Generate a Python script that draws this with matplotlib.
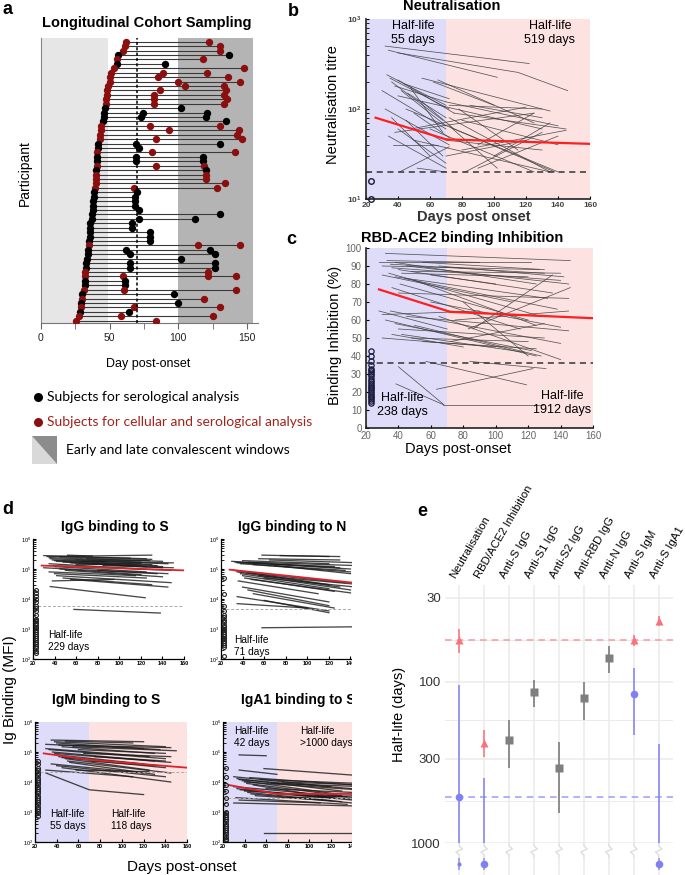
import matplotlib

matplotlib.use("Agg")
import matplotlib.pyplot as plt
import matplotlib.transforms as mtransforms
import numpy as np
from matplotlib.patches import Polygon, Rectangle

plt.rcParams["font.family"] = ["Liberation Sans", "DejaVu Sans"]

W, H = 685, 875

# ---------------- panel a: sampling days per participant ----------------
first_visit = [62, 61, 60, 56, 55, 55, 53, 51, 50, 50, 49, 48, 48, 47, 47, 46.6,
               46, 45.6, 45, 44, 44, 43, 43, 41.7, 41.7, 41, 40.5, 40.5, 40.5, 40,
               40, 40, 40, 39, 38.5, 38.5, 38, 38, 37.6, 36.8, 36.8, 36, 35.6, 35.6,
               35.6, 35, 35, 34, 34, 33.4, 33, 33, 32.4, 32.4, 32.4, 32.4, 31, 30,
               30, 29, 28.8, 28.5, 27.6, 25.6]
later_visits = [[122], [130], [130], [137], [118], [90], [148], [89, 121], [85, 136],
                [99.5, 145], [105, 133], [86.6, 135], [82, 133], [82, 135.6], [82, 133],
                [102], [74, 121], [73, 120], [134.6], [79, 130], [93, 144], [143],
                [84, 146], [69, 130], [71.5], [80.5, 141], [69, 118], [69, 118],
                [84, 119], [120.5], [120], [120], [134], [67.6, 128.5], [70], [68.5],
                [68.5], [68.5], [71.5], [130], [71.5, 112], [66], [66], [79.5], [79.5],
                [79.5], [114, 145], [62, 123], [65, 127], [102], [65, 127], [65, 127],
                [121.5], [60, 121.5, 142], [61], [61], [60.5, 142], [97], [119], [99.5],
                [67.6, 130], [64], [58, 125], [84]]
cohort = "rrrkrkrrrrrrrrrkkkkrrrrkkrkkrkrrrrkkkkkkkkkkkkrkkkkkrrkkrkrkrkrr"

# ---------------- panel b: neutralisation titres ----------------
neut_lines = [
    ([32, 122], [500, 320]), ([34, 102], [450, 225]), ([40, 115, 146], [420, 255, 160]),
    ([30, 70], [160, 60]), ([33, 70], [240, 110]), ([35, 72], [220, 100]),
    ([36, 68], [200, 75]), ([38, 70], [180, 120]), ([40, 75], [210, 90]),
    ([42, 70], [160, 65]), ([44, 72], [190, 130]), ([46, 70], [150, 80]),
    ([48, 68], [170, 55]), ([32, 72], [100, 40]), ([34, 70], [50, 22]),
    ([36, 60], [80, 30]), ([40, 70], [60, 25]), ([45, 68], [75, 30]),
    ([50, 72], [90, 48]), ([55, 75], [120, 60]), ([37, 65], [40, 40]),
    ([41, 72], [20, 38]), ([52, 70], [22, 20]), ([62, 100], [200, 110]),
    ([40, 130], [140, 60]), ([45, 140], [100, 20]), ([38, 125], [55, 90]),
    ([50, 135], [45, 20]), ([60, 125], [60, 20]), ([55, 135], [220, 95]),
    ([48, 120], [60, 105]), ([65, 125], [210, 70]), ([70, 140], [120, 65]),
    ([72, 130], [110, 100]), ([75, 145], [90, 60]), ([72, 135], [80, 20]),
    ([75, 138], [60, 20]), ([70, 130], [45, 35]), ([80, 145], [35, 58]),
    ([82, 130], [20, 55]), ([70, 120], [30, 45]), ([90, 125], [40, 90]),
    ([78, 115], [100, 35]), ([85, 130], [110, 80]), ([72, 102], [65, 22]),
    ([80, 140], [75, 40]), ([100, 135], [30, 70]), ([90, 140], [22, 50]),
]
neut_fit_days = [26, 70, 160]
neut_fit = [80, 46, 41]
neut_below = [16, 10]

# ---------------- panel c: RBD-ACE2 binding inhibition ----------------
inhib_lines = [
    ([32, 146], [97, 93]), ([28, 122], [92, 92]), ([30, 127], [90, 88]), ([33, 90], [93, 92]),
    ([35, 130], [91, 86]), ([36, 140], [89, 82]), ([38, 125], [92, 80]), ([40, 135], [88, 75]),
    ([42, 120], [86, 84]), ([45, 145], [90, 80]), ([30, 110], [85, 70]), ([34, 128], [86, 62]),
    ([38, 132], [84, 72]), ([41, 120], [80, 60]), ([44, 138], [83, 66]), ([48, 140], [87, 86]),
    ([50, 125], [82, 57]), ([36, 115], [78, 55]), ([40, 145], [75, 72]), ([55, 130], [92, 88]),
    ([60, 100], [85, 80]), ([65, 142], [90, 84]), ([28, 70], [65, 55]), ([30, 90], [63, 65]),
    ([32, 125], [60, 40]), ([35, 140], [65, 47]), ([38, 122], [58, 43]), ([40, 130], [55, 50]),
    ([42, 118], [52, 42]), ([45, 145], [62, 54]), ([48, 120], [50, 48]), ([36, 80], [52, 45]),
    ([50, 128], [57, 40]), ([55, 125], [48, 44]), ([30, 100], [50, 45]), ([60, 140], [70, 56]),
    ([70, 130], [65, 62]), ([75, 145], [60, 65]), ([83, 146], [55, 78]), ([86, 135], [55, 85]),
    ([72, 130], [48, 58]), ([80, 120], [70, 40]), ([65, 140], [62, 38]), ([40, 68], [34, 13]),
    ([38.5, 67.6], [24.5, 13]), ([67.6, 129], [13, 13]), ([63.5, 123], [21.5, 33]),
    ([57, 119], [37, 24]), ([84, 131], [37, 33]),
]
inhib_fit_days = [28, 72, 160]
inhib_fit = [77, 64.5, 61]
inhib_below = [43, 40, 37, 35, 33, 32, 31, 30, 29, 27, 26, 25, 24, 23, 22, 21, 20, 19,
               18, 17, 16, 15, 14]

# ---------------- panel d: Ig binding (MFI) ----------------
igg_s_lines = [
    ([30, 125], [2.8e5, 2.2e5]), ([33, 130], [2.6e5, 2.9e5]), ([35, 140], [2.4e5, 1.8e5]),
    ([36, 120], [2.2e5, 1.7e5]), ([38, 145], [2.0e5, 1.5e5]), ([40, 130], [1.9e5, 1.4e5]),
    ([42, 135], [1.8e5, 1.3e5]), ([45, 110], [2.5e5, 2.3e5]), ([48, 125], [1.7e5, 1.2e5]),
    ([52, 75], [2.9e5, 2.7e5]), ([55, 140], [1.6e5, 1.1e5]), ([35, 120], [1.5e5, 1.0e5]),
    ([38, 148], [1.3e5, 9e4]), ([40, 125], [1.2e5, 8e4]), ([30, 135], [1.1e5, 7e4]),
    ([45, 120], [1.0e5, 6.5e4]), ([50, 140], [9e4, 5.5e4]), ([35, 115], [8e4, 6e4]),
    ([40, 125], [7e4, 5e4]), ([42, 148], [6e4, 3.5e4]), ([48, 130], [5e4, 3e4]),
    ([55, 145], [4.5e4, 2.5e4]), ([38, 95], [4e4, 4.5e4]), ([60, 128], [2e5, 1.9e5]),
    ([65, 150], [1.8e5, 1.6e5]), ([70, 130], [2.2e5, 2.1e5]), ([75, 140], [1.5e5, 1.2e5]),
    ([80, 145], [9e4, 7e4]), ([85, 150], [1.3e5, 1.1e5]), ([60, 120], [1.4e5, 1.5e5]),
    ([36, 124], [2.6e4, 1.1e4]), ([58, 138], [4.5e3, 3.4e3]),
]
igg_s_fit_days = [28, 160]
igg_s_fit = [1.3e5, 9e4]
igg_s_below = [2.0e4, 1.6e4, 1.3e4, 1.0e4, 8e3, 6e3, 5e3, 4e3, 3e3, 2.2e3, 2e3, 1.8e3,
               1.6e3, 1.4e3, 1.2e3, 1.05e3, 9e2, 8e2, 7e2, 6e2, 5e2, 4.3e2, 3.7e2, 3.2e2,
               2.7e2, 2.3e2, 1.9e2, 1.6e2]

igg_n_lines = [
    ([30, 130], [1.8e5, 1.1e5]), ([33, 140], [1.7e5, 1.0e5]), ([35, 125], [1.6e5, 1.2e5]),
    ([38, 135], [1.5e5, 9e4]), ([40, 120], [1.9e5, 1.5e5]), ([45, 145], [1.7e5, 1.3e5]),
    ([50, 140], [1.4e5, 8e4]), ([55, 130], [2.2e5, 2.0e5]), ([58, 120], [2.9e5, 2.6e5]),
    ([65, 150], [2.0e5, 1.6e5]), ([75, 130], [2.8e5, 2.6e5]), ([70, 140], [1.3e5, 7e4]),
    ([32, 120], [9e4, 3e4]), ([35, 130], [8e4, 2.5e4]), ([38, 140], [7e4, 2e4]),
    ([40, 120], [6e4, 2.2e4]), ([42, 125], [5e4, 1.8e4]), ([45, 135], [7.5e4, 3.5e4]),
    ([48, 140], [4.5e4, 1.6e4]), ([36, 110], [4e4, 1.5e4]), ([55, 150], [6e4, 3e4]),
    ([60, 145], [5e4, 2.5e4]), ([40, 120], [2.5e4, 8e3]), ([45, 120], [2e4, 6e3]),
    ([50, 125], [1.5e4, 5e3]), ([35, 120], [1.2e4, 4e3]), ([35, 100], [7e3, 5e3]),
    ([60, 120], [9e3, 3.5e3]), ([58, 160], [1.1e3, 1.2e3]),
]
igg_n_fit_days = [28, 160]
igg_n_fit = [9.5e4, 3e4]
igg_n_below = [5e4, 1.5e4, 6e3, 4e3, 3e3, 2.5e3, 2e3, 1.7e3, 1.4e3, 1.2e3, 1e3, 9e2,
               8e2, 7e2, 6e2, 5e2, 4.5e2, 4e2, 3.5e2, 3e2, 2.5e2, 1.3e2]

igm_s_lines = [
    ([30, 120], [1.8e5, 1.3e5]), ([35, 120], [2.5e5, 2.2e5]), ([38, 140], [2.2e5, 1.5e5]),
    ([40, 135], [2.0e5, 1.2e5]), ([42, 145], [1.7e5, 1.4e5]), ([45, 130], [1.5e5, 9e4]),
    ([48, 110], [2.3e5, 2e5]), ([30, 125], [1.3e5, 7e4]), ([33, 140], [1.2e5, 6e4]),
    ([36, 130], [1.0e5, 5e4]), ([38, 145], [9e4, 4.5e4]), ([40, 120], [8e4, 4e4]),
    ([42, 135], [7e4, 3.5e4]), ([45, 140], [6.5e4, 3e4]), ([48, 125], [6e4, 2.5e4]),
    ([50, 145], [5e4, 2e4]), ([52, 130], [4.5e4, 1.8e4]), ([35, 120], [4e4, 2e4]),
    ([40, 140], [3.5e4, 1.5e4]), ([30, 110], [2.5e4, 1.5e4]), ([45, 145], [3e4, 1e4]),
    ([55, 150], [1.5e5, 1.1e5]), ([60, 140], [1.2e5, 9e4]), ([65, 145], [9e4, 7e4]),
    ([70, 130], [5e4, 3.5e4]), ([75, 140], [7e4, 5e4]), ([58, 125], [2.5e4, 2.2e4]),
    ([30, 70, 120], [2e4, 5.5e3, 3.8e3]),
]
igm_s_fit_days = [28, 70, 160]
igm_s_fit = [9e4, 5.5e4, 3e4]
igm_s_below = [5e4, 4e4, 3e4, 2.5e4, 2e4, 1.7e4, 1.4e4, 1.2e4, 1e4, 8.5e3, 7e3, 6e3,
               5e3, 4.2e3, 3.5e3, 3e3, 2.5e3, 2.1e3, 1.8e3, 1.5e3, 1.3e3, 1.1e3, 9e2, 7.5e2]

iga_s_lines = [
    ([35, 60], [8e4, 7.5e4]), ([58, 140], [2.8e4, 1.7e4]), ([35, 70], [2.5e4, 1.8e4]),
    ([30, 120], [1.5e4, 7e3]), ([33, 130], [1.3e4, 5e3]), ([35, 140], [1.2e4, 6e3]),
    ([38, 125], [1.1e4, 4e3]), ([40, 145], [1e4, 5.5e3]), ([42, 130], [9e3, 3.5e3]),
    ([45, 140], [1.4e4, 8e3]), ([48, 120], [8e3, 3e3]), ([30, 135], [7e3, 3.2e3]),
    ([33, 140], [6e3, 2.5e3]), ([36, 125], [5.5e3, 2.8e3]), ([40, 145], [5e3, 3e3]),
    ([43, 130], [4.5e3, 2.2e3]), ([46, 140], [4e3, 2e3]), ([50, 120], [3.5e3, 2.4e3]),
    ([32, 135], [3e3, 1.8e3]), ([35, 110], [2.5e3, 2e3]), ([30, 140], [2e3, 1.6e3]),
    ([55, 145], [1.2e4, 9e3]), ([60, 140], [6e3, 4.5e3]), ([65, 150], [9e3, 7e3]),
    ([70, 145], [4e3, 2.6e3]), ([75, 150], [1e4, 8e3]), ([80, 145], [3e3, 3.5e3]),
    ([58, 160], [2e2, 2e2]),
]
iga_s_fit_days = [25, 70, 160]
iga_s_fit = [8e3, 4e3, 4e3]
iga_s_below = [3e4, 1.5e4, 8e3, 5e3, 3e3, 1.8e3, 1e3, 9e2, 8e2, 7e2, 6e2, 5e2, 4e2,
               3.5e2, 3e2, 2.5e2, 2.1e2, 1.8e2, 1.5e2, 1.3e2, 1.15e2]

# ---------------- panel e: half-life estimates ----------------
categories = ["Neutralisation", "RBD/ACE2 Inhibition", "Anti-S IgG", "Anti-S1 IgG",
              "Anti-S2 IgG", "Anti-RBD IgG", "Anti-N IgG", "Anti-S IgM", "Anti-S IgA1"]
early_idx = [0, 1, 7, 8]
early_hl = [55, 238, 55, 42]
early_lo = [47, 199, 51, 39]
early_hi = [66, 293, 60, 45]
late_idx = [0, 1, 7, 8]
late_hl = [519, None, 118, None]      # None: estimate beyond 1000 days
late_lo = [104, 396, 82, 243]
late_hi = [None, None, 214, None]     # None: interval open beyond 1000 days
single_idx = [2, 3, 4, 5, 6]
single_hl = [229, 115, 343, 126, 71]
single_lo = [173, 97, 236, 100, 60]
single_hi = [343, 143, 655, 173, 88]
beyond_idx = [0, 1, 8]

RED_PT = "#8b0f0f"
FIT_RED = "#ff1f1f"
E_RED = "#f8727a"
E_BLUE = "#8080f6"


def fbox(l, t, r, b):
    return [l / W, 1 - b / H, (r - l) / W, (b - t) / H]


fig = plt.figure(figsize=(W / 100, H / 100), dpi=100)


def ftext(x, y, s, **kw):
    fig.text(x / W, 1 - y / H, s, **kw)


# ---- panel a ----
ax = fig.add_axes(fbox(41, 38, 258, 323))
ax.axvspan(0, 48.5, color="#e6e6e6", lw=0)
ax.axvspan(100, 154.5, color="#b4b4b4", lw=0)
for i, (d0, later, c) in enumerate(zip(first_visit, later_visits, cohort)):
    col = RED_PT if c == "r" else "black"
    days = [d0] + later
    ax.plot([d0, max(days)], [i, i], color="#3a3a3a", lw=0.8, zorder=2)
    ax.plot(days, [i] * len(days), "o", color=col, ms=5.3, mec="none", zorder=3)
ax.axvline(70, color="black", ls=(0, (2, 1.5)), lw=1.1, zorder=4)
ax.set_xlim(0, 158)
ax.set_ylim(63.5, -0.85)
for s in ["top", "right"]:
    ax.spines[s].set_visible(False)
ax.spines["left"].set_color("#888888")
ax.spines["bottom"].set_color("#777777")
ax.set_yticks([])
ax.set_xticks([0, 50, 100, 150])
ax.set_xticks([25, 75, 125], minor=True)
ax.tick_params(axis="x", which="both", direction="out", length=4, color="#666666",
               labelsize=7.5, labelcolor="#222222")
ftext(147, 23, "Longitudinal Cohort Sampling", ha="center", va="center",
      fontsize=10.5, fontweight="bold")
ftext(148, 364, "Day post-onset", ha="center", va="center", fontsize=9)
ftext(25, 173, "Participant", ha="center", va="center", fontsize=10, rotation=90)

# legend of panel a
lg = fig.add_axes(fbox(0, 380, 280, 470))
lg.set_xlim(0, 280)
lg.set_ylim(470, 380)
lg.axis("off")
lg.plot([38], [397], "o", color="black", ms=6.5, mec="none")
lg.plot([38], [422], "o", color=RED_PT, ms=6.5, mec="none")
lg.add_patch(Polygon([[32, 436], [32, 464], [57, 464]], closed=True, color="#d9d9d9", lw=0))
lg.add_patch(Polygon([[32, 436], [57, 436], [57, 464]], closed=True, color="#8c8c8c", lw=0))
lg.text(47, 397, "Subjects for serological analysis", va="center", fontsize=10,
        family=["Lato", "DejaVu Sans"])
lg.text(47, 422, "Subjects for cellular and serological analysis", va="center",
        fontsize=10, color="#a3221a", family=["Lato", "DejaVu Sans"])
lg.text(66, 450, "Early and late convalescent windows", va="center", fontsize=10,
        family=["Lato", "DejaVu Sans"])


def style_series_ax(ax, tick_size, bold):
    for s in ["top", "right"]:
        ax.spines[s].set_visible(False)
    for s in ["left", "bottom"]:
        ax.spines[s].set_color("#222222")
        ax.spines[s].set_linewidth(1.2)
    ax.tick_params(which="both", direction="in", labelsize=tick_size, length=2.5,
                   labelcolor="#444444")
    ax.tick_params(axis="x", pad=2.5)
    ax.tick_params(axis="y", pad=3)
    if bold:
        for lab in ax.get_xticklabels() + ax.get_yticklabels():
            lab.set_fontweight("bold")


# ---- panel b ----
ax = fig.add_axes(fbox(366, 19, 590, 199))
ax.axvspan(20, 70, color="#dedcf8", lw=0)
ax.axvspan(70, 160, color="#fde2e2", lw=0)
for days, vals in neut_lines:
    ax.plot(days, vals, color="#3c3c3c", lw=0.55, alpha=0.85)
ax.plot(neut_fit_days, neut_fit, color=FIT_RED, lw=1.6)
ax.axhline(20, color="#333333", ls=(0, (4, 3)), lw=1.1)
ax.plot([23] * len(neut_below), neut_below, "o", mfc="none", mec="#1a1a40", ms=4,
        mew=1, clip_on=False)
ax.set_yscale("log")
ax.set_ylim(10, 1000)
ax.set_xlim(20, 160)
ax.set_xticks(range(20, 161, 20))
style_series_ax(ax, 6, True)
ftext(452, 6, "Neutralisation", ha="center", va="center", fontsize=10.5, fontweight="bold")
ftext(474, 217, "Days post onset", ha="center", va="center", fontsize=10.5,
      fontweight="bold", color="#333333")
ftext(333, 105, "Neutralisation titre", ha="center", va="center", fontsize=10.5,
      rotation=90)
ftext(413, 33, "Half-life\n55 days", ha="center", va="center", fontsize=9)
ftext(550, 33, "Half-life\n519 days", ha="center", va="center", fontsize=9)

# ---- panel c ----
ax = fig.add_axes(fbox(366, 248, 593, 428))
ax.axvspan(20, 70, color="#dedcf8", lw=0)
ax.axvspan(70, 160, color="#fde2e2", lw=0)
for days, vals in inhib_lines:
    ax.plot(days, vals, color="#3c3c3c", lw=0.55, alpha=0.85)
ax.plot(inhib_fit_days, inhib_fit, color=FIT_RED, lw=1.6)
ax.axhline(36, color="#333333", ls=(0, (4, 3)), lw=1.1)
ax.plot([23] * len(inhib_below), inhib_below, "o", mfc="none", mec="#1a1a40", ms=3.8,
        mew=0.9)
ax.set_ylim(0, 100)
ax.set_xlim(20, 160)
ax.set_xticks(range(20, 161, 20))
ax.set_yticks(range(0, 101, 10))
style_series_ax(ax, 7, False)
ax.tick_params(labelcolor="#666666")
ftext(462, 238, "RBD-ACE2 binding Inhibition", ha="center", va="center", fontsize=10.5,
      fontweight="bold")
ftext(458, 449, "Days post-onset", ha="center", va="center", fontsize=10.5)
ftext(335, 335, "Binding Inhibition (%)", ha="center", va="center", fontsize=10.5,
      rotation=90)
ftext(402, 405, "Half-life\n238 days", ha="center", va="center", fontsize=9)
ftext(562, 403, "Half-life\n1912 days", ha="center", va="center", fontsize=9)

# ---- panel d ----
d_panels = [
    ((33, 539, 184, 659), "IgG binding to S", (115, 527), igg_s_lines, igg_s_fit_days,
     igg_s_fit, igg_s_below, 6e3, False),
    ((221, 539, 372, 659), "IgG binding to N", (292, 527), igg_n_lines, igg_n_fit_days,
     igg_n_fit, igg_n_below, 4.5e3, False),
    ((35, 722, 187, 842), "IgM binding to S", (106, 700), igm_s_lines, igm_s_fit_days,
     igm_s_fit, igm_s_below, 2.2e4, True),
    ((223, 722, 374, 842), "IgA1 binding to S", (298, 700), iga_s_lines, iga_s_fit_days,
     iga_s_fit, iga_s_below, 3e3, True),
]
for rect, title, tpos, lines, fdays, fvals, below, cutoff, shade in d_panels:
    ax = fig.add_axes(fbox(*rect))
    if shade:
        ax.axvspan(20, 70, color="#dedcf8", lw=0)
        ax.axvspan(70, 160, color="#fde2e2", lw=0)
    for days, vals in lines:
        ax.plot(days, vals, color="#1a1a1a", lw=0.95, alpha=0.8)
    ax.plot(fdays, fvals, color="#e0202a", lw=1.3)
    ax.axhline(cutoff, color="#aaaaaa", ls=(0, (3, 2)), lw=0.7)
    ax.plot([23] * len(below), below, "o", mfc="none", mec="#222222", ms=2.8, mew=0.8)
    ax.set_yscale("log")
    ax.set_ylim(1e2, 1e6)
    ax.set_xlim(20, 160)
    ax.set_xticks(range(20, 161, 20))
    for s in ["top", "right"]:
        ax.spines[s].set_visible(False)
    for s in ["left", "bottom"]:
        ax.spines[s].set_linewidth(0.9)
    ax.tick_params(which="both", direction="in", labelsize=4, length=2, pad=1.5)
    for lab in ax.get_xticklabels():
        lab.set_fontweight("bold")
    ftext(tpos[0], tpos[1], title, ha="center", va="center", fontsize=10,
          fontweight="bold")

ftext(48, 641, "Half-life\n229 days", ha="left", va="center", fontsize=7.3)
ftext(234, 646, "Half-life\n71 days", ha="left", va="center", fontsize=7.3)
ftext(50, 820, "Half-life\n55 days", ha="left", va="center", fontsize=7.3)
ftext(111, 820, "Half-life\n118 days", ha="left", va="center", fontsize=7.3)
ftext(234, 737, "Half-life\n42 days", ha="left", va="center", fontsize=7.3)
ftext(300, 737, "Half-life\n>1000 days", ha="left", va="center", fontsize=7.3)
ftext(10, 690, "Ig Binding (MFI)", ha="center", va="center", fontsize=11, rotation=90)
ftext(182, 867, "Days post-onset", ha="center", va="center", fontsize=11)

# crop of the right column of panel d
fig.add_artist(Rectangle((352 / W, 0), 40 / W, 1 - 490 / H, transform=fig.transFigure,
                         color="white", lw=0, zorder=10))

# ---- panel e ----
ax = fig.add_axes(fbox(445, 585, 673, 843))
ax.set_yscale("log")
ax.set_ylim(1000, 25)
ax.set_xlim(-0.57, len(categories) - 0.43)
for s in ax.spines.values():
    s.set_visible(False)
for v in [30, 100, 300, 1000]:
    ax.axhline(v, color="#ebebeb", lw=1.1, zorder=0)
for v in [54.8, 173, 548]:
    ax.axhline(v, color="#ebebeb", lw=0.7, zorder=0)
for i in range(len(categories)):
    ax.axvline(i, color="#ebebeb", lw=1.1, zorder=0)
ax.axhline(55, color="#f8a0a4", ls=(0, (4, 3)), lw=1.2, zorder=1)
ax.axhline(519, color="#a4a4f8", ls=(0, (4, 3)), lw=1.2, zorder=1)

for x, v, lo, hi in zip(early_idx, early_hl, early_lo, early_hi):
    ax.vlines(x, lo, hi, color=E_RED, lw=1.3, alpha=0.85, zorder=2)
    ax.plot(x, v, "^", color=E_RED, ms=6, mec="none", zorder=3)
for x, v, lo, hi in zip(late_idx, late_hl, late_lo, late_hi):
    ax.vlines(x, lo, hi if hi is not None else 1e4, color=E_BLUE, lw=1.3, alpha=0.85,
              zorder=2)
    if v is not None:
        ax.plot(x, v, "o", color=E_BLUE, ms=5.5, mec="none", zorder=3)
for x, v, lo, hi in zip(single_idx, single_hl, single_lo, single_hi):
    ax.vlines(x, lo, hi, color="#858585", lw=1.3, zorder=2)
    ax.plot(x, v, "s", color="#7f7f7f", ms=5.5, mec="none", zorder=3)

ax.set_yticks([30, 100, 300, 1000])
ax.set_yticklabels(["30", "100", "300", "1000"])
ax.yaxis.set_minor_locator(matplotlib.ticker.NullLocator())
ax.set_xticks([])
ax.tick_params(axis="y", length=0, labelsize=9.5, labelcolor="#333333", pad=3)
ax.set_ylabel("Half-life (days)", fontsize=10.5, labelpad=4)
trans = mtransforms.blended_transform_factory(ax.transData, ax.transAxes)
for i, name in enumerate(categories):
    ax.text(i - 0.08, 1.02, name, rotation=60, rotation_mode="anchor", ha="left",
            va="bottom", fontsize=8.2, transform=trans)

# broken-axis strip below 1000 days
ax2 = fig.add_axes(fbox(445, 843, 673, 875))
ax2.set_xlim(-0.57, len(categories) - 0.43)
ax2.set_ylim(875, 843)
ax2.axis("off")
for i in range(len(categories)):
    ax2.plot([i, i, i + 0.13, i - 0.13, i, i], [843, 846, 849, 852, 855, 858],
             color="#dddddd", lw=1.0)
    ax2.plot([i, i], [858, 875], color="#ebebeb", lw=1.1)
for i in beyond_idx:
    ax2.vlines(i, 858, 870, color=E_BLUE, lw=1.2, alpha=0.8)
    ax2.plot(i, 864, "o", color=E_BLUE, ms=3 if i == 0 else 5.5, mec="none")

for lab, x, y in [("a", 8, 10), ("b", 293, 12), ("c", 291, 240), ("d", 8, 510),
                  ("e", 422, 512)]:
    ftext(x, y, lab, ha="center", va="center", fontsize=13, fontweight="bold")

fig.savefig("out.png", dpi=100)
